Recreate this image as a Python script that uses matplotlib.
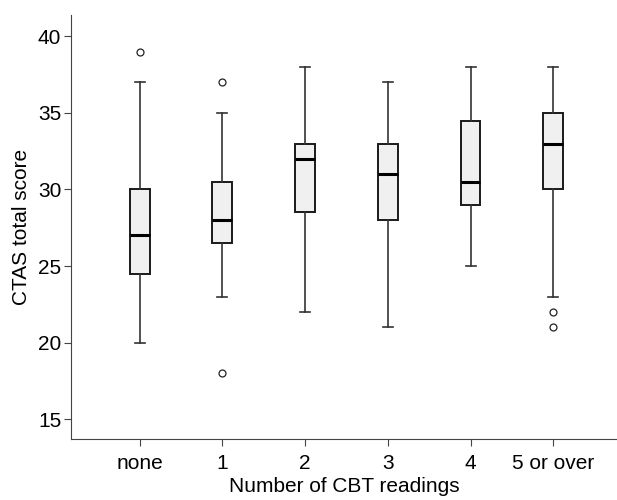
import matplotlib
matplotlib.use('Agg')
import matplotlib.pyplot as plt

plt.rcParams['font.family'] = ['Liberation Sans', 'DejaVu Sans']

# data
groups = ['none', '1', '2', '3', '4', '5 or over']
whislo = [20, 23, 22, 21, 25, 23]
q1 = [24.5, 26.5, 28.5, 28, 29, 30]
med = [27, 28, 32, 31, 30.5, 33]
q3 = [30, 30.5, 33, 33, 34.5, 35]
whishi = [37, 35, 38, 37, 38, 38]
fliers = [[39], [37, 18], [], [], [], [22, 21]]

stats = []
for i in range(len(groups)):
    stats.append(dict(label=groups[i], whislo=whislo[i], q1=q1[i], med=med[i],
                      q3=q3[i], whishi=whishi[i], fliers=fliers[i]))

fig = plt.figure(figsize=(6.17, 5), dpi=100)
ax = fig.add_axes([0.115, 0.122, 0.885, 0.848])

ax.bxp(stats, positions=range(len(groups)), widths=0.24, patch_artist=True,
       boxprops=dict(facecolor='#f0f0f0', edgecolor='#1a1a1a', linewidth=1.4),
       medianprops=dict(color='black', linewidth=2.2),
       whiskerprops=dict(color='#333333', linewidth=1.2),
       capprops=dict(color='#333333', linewidth=1.2),
       capwidths=0.12,
       flierprops=dict(marker='o', markersize=5, markerfacecolor='white',
                       markeredgecolor='#222222', markeredgewidth=0.9))

ax.set_xlim(-0.83, 5.77)
ax.set_ylim(13.7, 41.4)
ax.set_yticks([15, 20, 25, 30, 35, 40])
ax.set_xticks(range(len(groups)))
ax.set_xticklabels(groups)
ax.spines['top'].set_visible(False)
ax.spines['right'].set_visible(False)
ax.spines['left'].set_color('#444444')
ax.spines['bottom'].set_color('#444444')
ax.tick_params(labelsize=15, length=5, color='#444444')
ax.tick_params(axis='x', pad=6)
ax.tick_params(axis='y', pad=2)
ax.set_xlabel('Number of CBT readings', fontsize=15, labelpad=3)
ax.set_ylabel('CTAS total score', fontsize=15, labelpad=5)

plt.savefig('out.png')
